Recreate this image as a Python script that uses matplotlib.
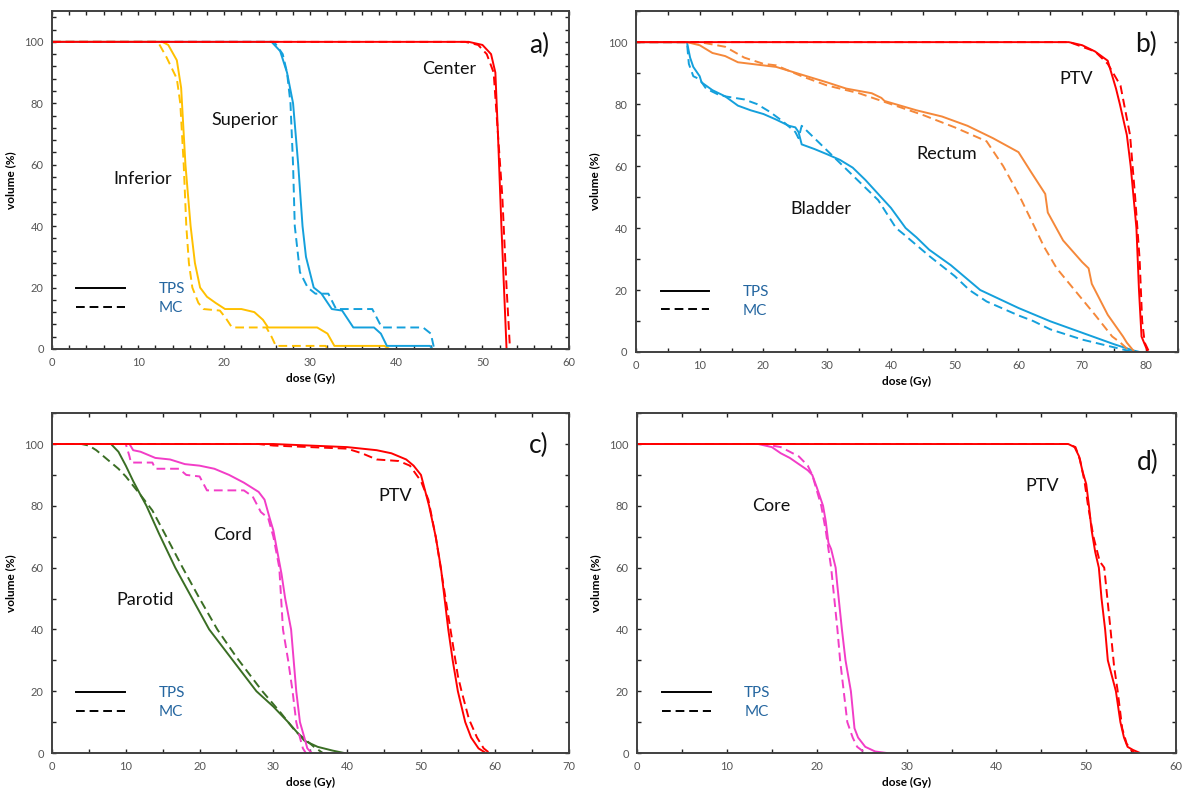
import matplotlib.pyplot as plt
from matplotlib.lines import Line2D
from matplotlib.ticker import MultipleLocator

plt.rcParams['font.family'] = ['Lato', 'DejaVu Sans']

# ---- panel a) ----
inf_tps_x = [0, 12.8, 13.5, 14.5, 15.0, 15.5, 16.1, 16.6, 17.2, 18.0, 19.0, 20.1, 22.0, 23.5, 24.5, 25.1, 30.8, 32.0, 32.8, 38.6, 39.2]
inf_tps_y = [100, 100, 99, 94, 85, 60, 40, 28, 20, 17, 15, 13, 13, 12, 9.5, 7, 7, 5, 1, 1, 0]
inf_mc_x = [0, 12.3, 13.3, 14.5, 14.9, 15.3, 15.6, 15.9, 16.3, 17.0, 17.6, 19.5, 20.2, 20.9, 24.9, 25.5, 26.0, 31.8, 32.0]
inf_mc_y = [100, 100, 95, 88, 80, 60, 40, 28, 20, 15, 13, 12.5, 10, 7, 7, 4, 1, 1, 0]
sup_tps_x = [0, 25.5, 26.5, 27.3, 28.0, 28.6, 29.1, 29.5, 30.4, 31.3, 32.5, 33.7, 35.0, 37.4, 38.2, 38.9, 43.9, 44.2]
sup_tps_y = [100, 100, 97, 90, 80, 60, 40, 30, 20, 18, 13, 12.5, 7, 7, 5, 1, 1, 0]
sup_mc_x = [0, 25.8, 26.8, 27.3, 27.7, 28.0, 28.2, 28.8, 29.7, 30.6, 32.1, 33.0, 37.2, 38.3, 43.1, 44.0, 44.4]
sup_mc_y = [100, 100, 96, 90, 80, 60, 40, 25, 20, 18, 18, 13, 13, 7, 7, 5, 0]
cen_tps_x = [0, 48.4, 50.0, 51.0, 51.5, 51.8, 52.2, 52.5, 52.8]
cen_tps_y = [100, 100, 99, 96, 90, 70, 40, 20, 0]
cen_mc_x = [0, 48.0, 49.5, 50.5, 51.3, 51.8, 52.3, 52.8, 53.2]
cen_mc_y = [100, 100, 99, 96, 90, 70, 50, 20, 0]

# ---- panel b) ----
ptvb_tps_x = [0, 67.9, 70, 72, 74, 75.3, 75.9, 77.0, 77.6, 78.5, 78.9, 79.3, 80.3]
ptvb_tps_y = [100, 100, 99, 97, 94, 85, 80, 70, 60, 40, 20, 5, 0]
ptvb_mc_x = [0, 68, 70, 72, 74, 76, 77.5, 78.3, 79.0, 79.4, 79.8, 80.5]
ptvb_mc_y = [100, 100, 98.5, 97, 93, 86, 70, 50, 30, 10, 3, 0]
rec_tps_x = [0, 8, 10, 12, 14, 16, 18, 22, 26, 30, 33, 37, 38.5, 39, 44, 48, 52, 56, 60, 62, 64.2, 64.6, 67, 70, 71, 71.5, 74, 76.4, 77, 78.2]
rec_tps_y = [100, 100, 99, 96.5, 95.5, 93.5, 93, 92, 89.5, 87, 85, 83.5, 82, 81, 78, 76, 73, 69, 64.5, 58, 51, 45, 36, 29, 27, 22, 12, 5, 3, 0]
rec_mc_x = [0, 8, 10, 14, 17, 20, 22, 26, 30, 35, 40, 45, 50, 55, 57.6, 60, 62.6, 64, 66, 68.8, 70, 72, 74.7, 76, 77.6]
rec_mc_y = [100, 100, 100, 98.5, 95, 93, 92.5, 89, 86, 83.5, 80, 76.5, 72.5, 68, 60, 51, 40, 34, 27, 20, 17, 12, 5, 3, 0]
bla_tps_x = [0, 8, 8.5, 9, 10, 10.3, 12, 14, 16, 18, 20, 22, 24, 25, 25.5, 26, 28, 30, 32, 34, 36, 38, 40, 42.3, 44, 46, 49.4, 54, 60, 65, 70, 75, 78, 79]
bla_tps_y = [100, 100, 95, 92, 89, 87, 84.5, 82.5, 79.5, 78, 76.8, 75, 73, 72.5, 71, 67, 65.5, 63.8, 62, 59.5, 55.5, 51, 46.5, 40, 37, 33, 28, 20, 14.2, 9.9, 6.2, 2.5, 0.5, 0]
bla_mc_x = [0, 8, 8.3, 9, 10, 11, 13, 14, 17, 19, 21, 23, 25, 25.5, 26, 28, 30, 32, 34, 36, 38, 40.8, 42, 44, 46, 50, 52.3, 55, 60, 62.3, 65, 70, 75, 77, 78]
bla_mc_y = [100, 100, 93, 89, 88, 85, 83, 82.5, 81.5, 80, 77.5, 74.5, 71, 69, 73, 69, 65, 61, 57, 53, 49, 40, 38, 34.5, 31, 24.5, 20, 16.3, 11.8, 10, 7.3, 4, 1.5, 0.5, 0]

# ---- panel c) ----
par_tps_x = [0, 8, 9, 10, 11, 12, 12.8, 14.5, 16.7, 19.0, 21.3, 24.5, 27.7, 30.0, 32.0, 34.2, 36, 38, 39.6]
par_tps_y = [100, 100, 97.5, 93, 88, 83.5, 80, 71, 60, 50, 40, 30, 20, 15, 10, 4, 2, 0.8, 0]
par_mc_x = [0, 4, 5, 6, 7, 8, 9, 10, 11, 12, 13.6, 15.5, 17.7, 20, 22.4, 25, 28.5, 31, 33, 34.5, 35.5, 36.7]
par_mc_y = [100, 100, 99.5, 98, 96, 94, 92, 89.5, 86.5, 83.5, 78.5, 70, 60, 50, 40, 31, 20, 13, 7, 4, 2, 0]
cord_tps_x = [0, 10.5, 11, 12, 13, 14, 16, 18, 20, 22, 24, 26, 28, 28.8, 29.5, 30, 31.1, 31.6, 32.4, 33.1, 33.6, 34.2, 34.6, 35.2]
cord_tps_y = [100, 100, 98, 97.5, 96.5, 95.5, 95, 93.5, 93, 92, 90, 87.5, 84.5, 82, 76, 72, 58, 50, 40, 20, 10, 5, 1.5, 0]
cord_mc_x = [0, 10, 10.5, 10.7, 13.6, 14, 17.2, 18.2, 20, 21, 26, 27.2, 28.3, 29.3, 30, 30.8, 31.3, 32, 32.6, 33.1, 33.6, 34, 34.4]
cord_mc_y = [100, 100, 96, 94, 94, 92, 92, 90, 89.5, 85, 85, 83, 78, 76, 70, 60, 40, 30, 20, 10, 5, 1.5, 0]
ptvc_tps_x = [0, 30, 40, 44, 46, 48, 49, 50, 51.1, 52, 52.7, 53.2, 53.7, 54.3, 55.0, 56.0, 56.8, 57.8, 58.8]
ptvc_tps_y = [100, 100, 99, 98, 97, 95, 93, 90, 80, 70, 60, 50, 40, 30, 20, 10, 5, 1.5, 0]
ptvc_mc_x = [0, 28, 30, 40, 42, 44, 47, 48.5, 50, 51, 52, 53, 54, 55, 55.5, 56.5, 57.6, 58.5, 59.3]
ptvc_mc_y = [100, 100, 99.5, 98.5, 97, 95, 94.5, 93, 88, 82, 70, 55, 40, 25, 20, 11, 5, 1.5, 0]

# ---- panel d) ----
core_tps_x = [0, 13.5, 15, 16, 17, 18, 19, 19.5, 20, 20.7, 21, 21.3, 21.6, 22.1, 22.3, 22.8, 23.2, 23.8, 24.2, 24.6, 25.4, 26.5, 27.8]
core_tps_y = [100, 100, 99, 97, 95.5, 93.5, 91.5, 90, 86, 80, 75, 68, 66, 60, 54, 40, 30, 20, 8, 5, 2, 0.5, 0]
core_mc_x = [0, 14, 16, 18, 19, 19.5, 20, 20.5, 21, 21.6, 22.3, 22.6, 23.0, 23.4, 24.0, 24.5, 25.4]
core_mc_y = [100, 100, 99, 96, 93, 90, 85, 80, 72, 60, 40, 30, 20, 10, 5, 2, 0]
ptvd_tps_x = [0, 48, 48.7, 49.2, 49.6, 50, 50.3, 50.6, 51, 51.4, 51.7, 52.1, 52.4, 53.3, 53.8, 54.2, 54.6, 55.2, 56]
ptvd_tps_y = [100, 100, 99, 96, 91, 87, 80, 72, 65, 60, 50, 40, 30, 20, 10, 5, 2, 1, 0]
ptvd_mc_x = [0, 48, 48.8, 49.3, 49.8, 50.2, 50.8, 51.5, 52, 52.7, 53.1, 53.5, 54, 54.5, 55, 55.4]
ptvd_mc_y = [100, 100, 99, 95, 88, 80, 70, 62, 60, 40, 28, 20, 8, 3, 1, 0]

YELLOW = '#FFC000'
BLUE = '#14A0DC'
RED = '#FF0000'
ORANGE = '#F5883A'
GREEN = '#3A6E24'
MAGENTA = '#F23DC7'
FRAME = '#404040'

fig = plt.figure(figsize=(11.82, 7.96), dpi=100)
ax_a = fig.add_axes([0.044, 0.5616, 0.437, 0.4244])
ax_b = fig.add_axes([0.538, 0.5578, 0.4585, 0.4282])
ax_c = fig.add_axes([0.044, 0.054, 0.437, 0.427])
ax_d = fig.add_axes([0.539, 0.054, 0.456, 0.427])

dash = (0, (4.5, 2.5))


def pair(ax, xs, ys, xm, ym, color):
    ax.plot(xm, ym, color=color, lw=1.4, linestyle=dash)
    ax.plot(xs, ys, color=color, lw=1.4)


def style(ax, xmax, xmaj, xmin, ymin_step, letter, letter_xy):
    ax.set_xlim(0, xmax)
    ax.set_ylim(0, 110)
    ax.xaxis.set_major_locator(MultipleLocator(xmaj))
    ax.xaxis.set_minor_locator(MultipleLocator(xmin))
    ax.yaxis.set_minor_locator(MultipleLocator(ymin_step))
    ax.set_yticks([0, 20, 40, 60, 80, 100])
    for s in ax.spines.values():
        s.set_color(FRAME)
        s.set_linewidth(1.4)
    ax.tick_params(which='both', direction='in', top=True, right=True,
                   length=3, width=1, color='#222222', labelsize=8, labelcolor='#555555', pad=6)
    ax.set_xlabel('dose (Gy)', fontsize=8.5, fontweight='bold', labelpad=3)
    ax.set_ylabel('volume (%)', fontsize=8.5, fontweight='bold', labelpad=6)
    ax.text(letter_xy[0], letter_xy[1], letter, fontsize=19, ha='center', va='center', color='#111111')
    handles = [Line2D([], [], color='black', lw=1.4),
               Line2D([], [], color='black', lw=1.4, linestyle=dash)]
    ax.legend(handles, ['TPS', 'MC'], loc='lower left', bbox_to_anchor=(0.02, 0.06),
              frameon=False, handlelength=3.2, handletextpad=2.2, labelspacing=0.3,
              fontsize=11, labelcolor='#2566A0')


lbl = dict(fontsize=13, ha='center', va='center', color='#111111')

# a)
pair(ax_a, inf_tps_x, inf_tps_y, inf_mc_x, inf_mc_y, YELLOW)
pair(ax_a, sup_tps_x, sup_tps_y, sup_mc_x, sup_mc_y, BLUE)
pair(ax_a, cen_tps_x, cen_tps_y, cen_mc_x, cen_mc_y, RED)
ax_a.text(10.5, 55.5, 'Inferior', **lbl)
ax_a.text(22.4, 74.4, 'Superior', **lbl)
ax_a.text(46.1, 91, 'Center', **lbl)
style(ax_a, 60, 10, 2, 4, 'a)', (56.6, 98.7))

# b)
pair(ax_b, bla_tps_x, bla_tps_y, bla_mc_x, bla_mc_y, BLUE)
pair(ax_b, rec_tps_x, rec_tps_y, rec_mc_x, rec_mc_y, ORANGE)
pair(ax_b, ptvb_tps_x, ptvb_tps_y, ptvb_mc_x, ptvb_mc_y, RED)
ax_b.text(69.1, 88.2, 'PTV', **lbl)
ax_b.text(48.8, 63.9, 'Rectum', **lbl)
ax_b.text(29, 46.3, 'Bladder', **lbl)
style(ax_b, 85, 10, 5, 10, 'b)', (80, 99.1))

# c)
pair(ax_c, par_tps_x, par_tps_y, par_mc_x, par_mc_y, GREEN)
pair(ax_c, cord_tps_x, cord_tps_y, cord_mc_x, cord_mc_y, MAGENTA)
pair(ax_c, ptvc_tps_x, ptvc_tps_y, ptvc_mc_x, ptvc_mc_y, RED)
ax_c.text(46.5, 83.3, 'PTV', **lbl)
ax_c.text(24.4, 70.4, 'Cord', **lbl)
ax_c.text(12.6, 49.5, 'Parotid', **lbl)
style(ax_c, 70, 10, 5, 10, 'c)', (66, 99.5))

# d)
pair(ax_d, core_tps_x, core_tps_y, core_mc_x, core_mc_y, MAGENTA)
pair(ax_d, ptvd_tps_x, ptvd_tps_y, ptvd_mc_x, ptvd_mc_y, RED)
ax_d.text(45.1, 86.3, 'PTV', **lbl)
ax_d.text(14.9, 79.9, 'Core', **lbl)
style(ax_d, 60, 10, 5, 10, 'd)', (56.9, 94))

fig.savefig('out.png', dpi=100)
